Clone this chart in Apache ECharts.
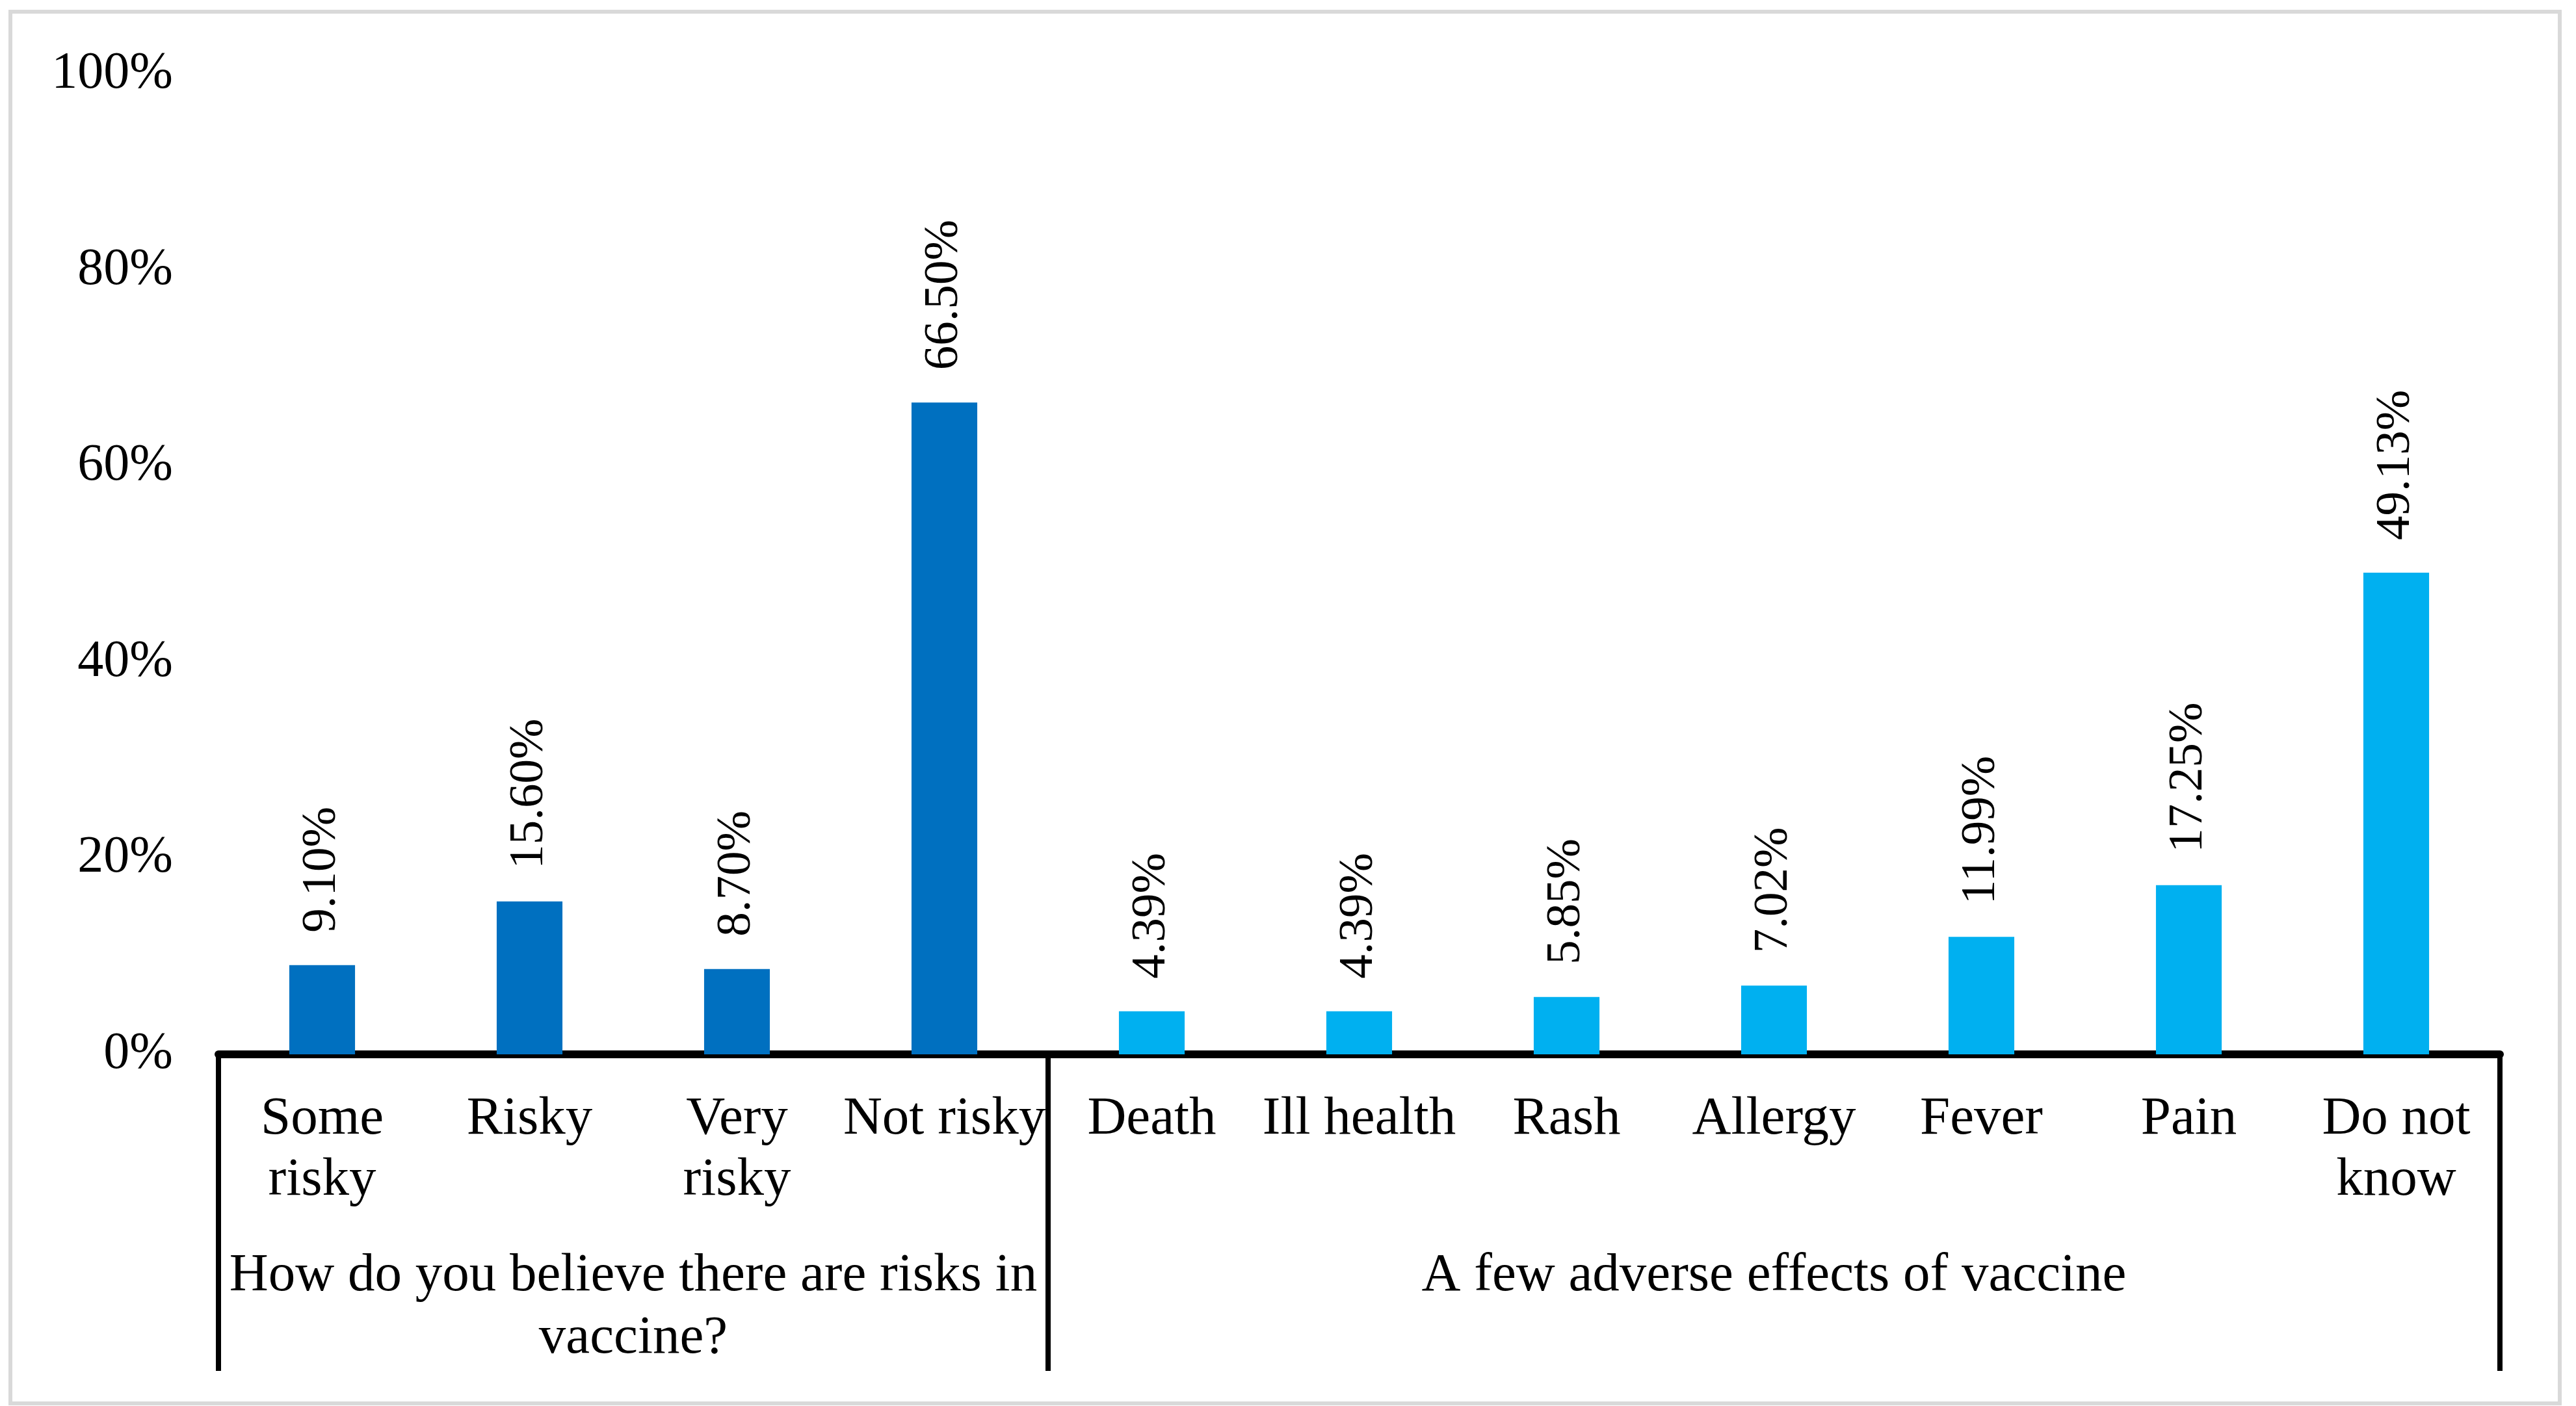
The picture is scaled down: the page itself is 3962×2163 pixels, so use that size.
<!DOCTYPE html>
<html><head><meta charset="utf-8">
<script src="https://cdn.jsdelivr.net/npm/echarts@6/dist/echarts.min.js"></script>
<style>
html,body{margin:0;padding:0;background:#fff;}
#c{width:3962px;height:2163px;position:absolute;left:0;top:0;}
#frame{position:absolute;left:13px;top:15px;width:3927px;height:2147px;border:6px solid #d9d9d9;box-sizing:border-box;pointer-events:none;}
</style></head><body>
<div id="c"></div><div id="frame"></div>
<script>
const categories = ["Some\nrisky", "Risky", "Very\nrisky", "Not risky", "Death", "Ill health", "Rash", "Allergy", "Fever", "Pain", "Do not\nknow"];
const values = [9.10, 15.60, 8.70, 66.50, 4.39, 4.39, 5.85, 7.02, 11.99, 17.25, 49.13];
const groupNames = ["How do you believe there are risks in\nvaccine?", "A few adverse effects of vaccine"];
const groupSizes = [4, 7];
const groupColors = ["#0070C0", "#00B0F0"];
const yTickMax = 100, yTickStep = 20;

const FONT = "Liberation Serif";
// group boundaries and centers (in category units)
const bounds = [0];
groupSizes.forEach(s => bounds.push(bounds[bounds.length - 1] + s));
const centers = groupSizes.map((s, i) => bounds[i] + s / 2);
const colorOf = idx => { for (let g = 0; g < groupSizes.length; g++) if (idx < bounds[g + 1]) return groupColors[g]; };

const chart = echarts.init(document.getElementById('c'), null, {renderer: 'canvas'});
chart.setOption({
  animation: false,
  backgroundColor: '#fff',
  grid: {left: 336, right: 117, top: 114, bottom: 541, containLabel: false},
  xAxis: [{
    type: 'category', data: categories, boundaryGap: true,
    axisLine: {show: true, lineStyle: {color: '#000', width: 12}},
    axisTick: {show: false},
    axisLabel: {interval: 0, fontFamily: FONT, fontSize: 83, color: '#000', lineHeight: 94, margin: 53, verticalAlign: 'top'},
    splitLine: {show: false}
  }, {
    type: 'value', min: 0, max: bounds[bounds.length - 1], position: 'bottom',
    axisLine: {show: false},
    axisTick: {show: true, customValues: bounds, length: 487, lineStyle: {color: '#000', width: 8}},
    axisLabel: {show: true, customValues: centers, fontFamily: FONT, fontSize: 83, color: '#000', lineHeight: 96, margin: 293, verticalAlign: 'top', align: 'center',
      formatter: v => { const i = centers.indexOf(v); return i >= 0 ? groupNames[i] : ''; }},
    splitLine: {show: false}
  }],
  yAxis: {
    type: 'value', min: 0, max: yTickMax, interval: yTickStep,
    axisLine: {show: false}, axisTick: {show: false}, splitLine: {show: false},
    axisLabel: {formatter: '{value}%', fontFamily: FONT, fontSize: 80, color: '#000', margin: 70}
  },
  series: [{
    type: 'bar', xAxisIndex: 0, barWidth: '31.7%',
    data: values.map((v, i) => ({value: v, itemStyle: {color: colorOf(i)}})),
    label: {show: true, position: 'top', rotate: 90, align: 'left', verticalAlign: 'middle', distance: 50,
      fontFamily: FONT, fontSize: 75, color: '#000', formatter: p => p.value.toFixed(2) + '%'}
  }]
});
</script></body></html>
